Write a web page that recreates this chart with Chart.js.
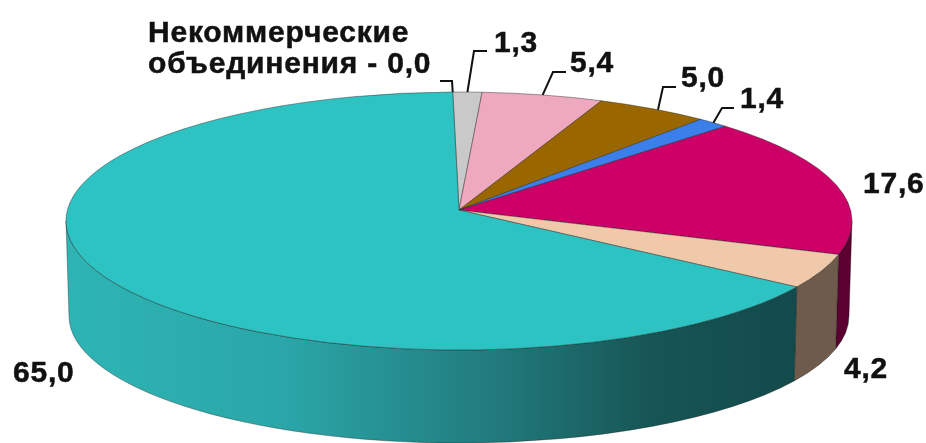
<!DOCTYPE html>
<html>
<head>
<meta charset="utf-8">
<style>
  html, body { margin: 0; padding: 0; background: #fff; overflow: hidden; }
</style>
<script src="https://cdn.jsdelivr.net/npm/chart.js@4/dist/chart.umd.min.js"></script>
</head>
<body>
<canvas id="pie" width="926" height="443"></canvas>
<script>
// Values, clockwise from the top
const sliceLabels = ['Некоммерческие объединения - 0,0', '1,3', '5,4', '5,0', '1,4', '17,6', '4,2', '65,0'];
const sliceValues = [0.0, 1.3, 5.4, 5.0, 1.4, 17.6, 4.2, 65.0];
const sliceColors = ['#c9c9c9', '#c9c9c9', '#efa9bf', '#996600', '#3b80ea', '#cc0066', '#efc9a9', '#2ec3c3'];
const wallColors = ['#6b6b6b', '#6b6b6b', '#7a5462', '#4d3300', '#1e4075', '#5c0032', '#6f5b4c', null];
const tealWallStops = [[0, '#2eb4b4'], [0.3, '#2aa6a8'], [0.57, '#227d7f'], [0.8, '#175555'], [1, '#134a4b']];

// Perspective of the disc, as multiples of the pie radius
const tilt = { rx: 393 / 210, ry: 129 / 210, offsetY: 11 / 210, depth: 95 / 210, bottomRx: 390 / 210, bottomRy: 127 / 210, persp: 1 / 13 };

class Arc3d extends Chart.ArcElement {
  static id = 'arc3d';

  // ellipse parameter of the rim point for a pie angle
  rimParam(angle) {
    const u = Math.cos(angle), v = Math.sin(angle);
    const w = 1 - tilt.persp * v;
    const sx = tilt.rx * u / w;
    const sy = tilt.ry * v / w;
    return Math.atan2((sy - tilt.offsetY) / tilt.ry, sx / tilt.rx);
  }

  draw(ctx) {
    const { x, y, outerRadius: r, startAngle, endAngle } = this;
    if (endAngle - startAngle < 1e-4) return;
    const cy = y + tilt.offsetY * r;
    const rx = tilt.rx * r, ry = tilt.ry * r;
    const t1 = this.rimParam(startAngle);
    let t2 = this.rimParam(endAngle);
    if (t2 <= t1) t2 += Math.PI * 2;
    const index = this.$context.index;

    // side wall, only on the front half of the rim
    [0, Math.PI * 2].forEach(k => {
      const a = Math.max(t1, k), b = Math.min(t2, k + Math.PI);
      if (b <= a) return;
      ctx.beginPath();
      ctx.ellipse(x, cy, rx, ry, 0, a, b);
      ctx.ellipse(x, cy + tilt.depth * r, tilt.bottomRx * r, tilt.bottomRy * r, 0, b, a, true);
      ctx.closePath();
      if (wallColors[index]) {
        ctx.fillStyle = wallColors[index];
      } else {
        const grad = ctx.createLinearGradient(x - rx, 0, x + rx * 0.86, 0);
        tealWallStops.forEach(s => grad.addColorStop(s[0], s[1]));
        ctx.fillStyle = grad;
      }
      ctx.fill();
      ctx.strokeStyle = 'rgba(20,30,30,0.55)';
      ctx.lineWidth = 0.7;
      ctx.stroke();
    });

    // top face
    ctx.beginPath();
    ctx.moveTo(x, y);
    ctx.ellipse(x, cy, rx, ry, 0, t1, t2);
    ctx.closePath();
    ctx.fillStyle = this.options.backgroundColor;
    ctx.fill();
    ctx.strokeStyle = 'rgba(30,30,30,0.6)';
    ctx.lineWidth = 0.7;
    ctx.stroke();
  }

  rimPoint(angle) {
    const t = this.rimParam(angle);
    return {
      x: this.x + tilt.rx * this.outerRadius * Math.cos(t),
      y: this.y + tilt.offsetY * this.outerRadius + tilt.ry * this.outerRadius * Math.sin(t)
    };
  }
}

class Pie3dController extends Chart.PieController {
  static id = 'pie3d';
  static defaults = { dataElementType: 'arc3d' };
}

Chart.register(Arc3d, Pie3dController);

// Text placed as in the picture: [left, baseline]
const labelSpots = [null, [494, 52], [570, 72], [681, 87], [740, 108], [863, 193], [844, 378], [13, 382]];
// Leader lines: elbow and end of the line, for labels that have one
const leaders = [[[452, 81], [440, 81]], [[474, 51], [487, 51]], [[553, 72], [566, 72]], [[663, 87], [676, 87]], [[722, 108], [734, 108]]];
const leaderFractions = [0, 0.5, 0.5, 0.55, 0.5];

const labelPlugin = {
  id: 'labelPlugin',
  afterDatasetsDraw(chart) {
    const ctx = chart.ctx;
    const arcs = chart.getDatasetMeta(0).data;
    ctx.save();
    ctx.strokeStyle = '#111';
    ctx.lineWidth = 2;
    leaders.forEach((pts, i) => {
      const arc = arcs[i];
      const angle = arc.startAngle + (arc.endAngle - arc.startAngle) * leaderFractions[i];
      const p = arc.rimPoint(angle);
      ctx.beginPath();
      ctx.moveTo(p.x, p.y);
      ctx.lineTo(pts[0][0], pts[0][1]);
      ctx.lineTo(pts[1][0], pts[1][1]);
      ctx.stroke();
    });
    ctx.fillStyle = '#111';
    ctx.font = 'bold 30px "Liberation Sans", Arial, sans-serif';
    ctx.letterSpacing = '0.8px';
    ctx.textAlign = 'left';
    ctx.textBaseline = 'alphabetic';
    ctx.lineWidth = 0.5;
    const put = (text, px, py) => {
      ctx.fillText(text, px, py);
      ctx.strokeText(text, px, py);
    };
    sliceLabels.forEach((text, i) => {
      if (labelSpots[i]) put(text, labelSpots[i][0], labelSpots[i][1]);
    });
    // first label wraps onto two lines
    const words = sliceLabels[0].split(' ');
    put(words[0], 148, 42);
    put(words.slice(1).join(' '), 148, 73);
    ctx.restore();
  }
};

new Chart(document.getElementById('pie').getContext('2d'), {
  type: 'pie3d',
  data: {
    labels: sliceLabels,
    datasets: [{
      data: sliceValues,
      backgroundColor: sliceColors,
      borderWidth: 0
    }]
  },
  options: {
    responsive: false,
    animation: false,
    rotation: -1,
    layout: { padding: { right: 8, bottom: 23 } },
    plugins: { legend: { display: false }, tooltip: { enabled: false } }
  },
  plugins: [labelPlugin]
});
</script>
</body>
</html>
